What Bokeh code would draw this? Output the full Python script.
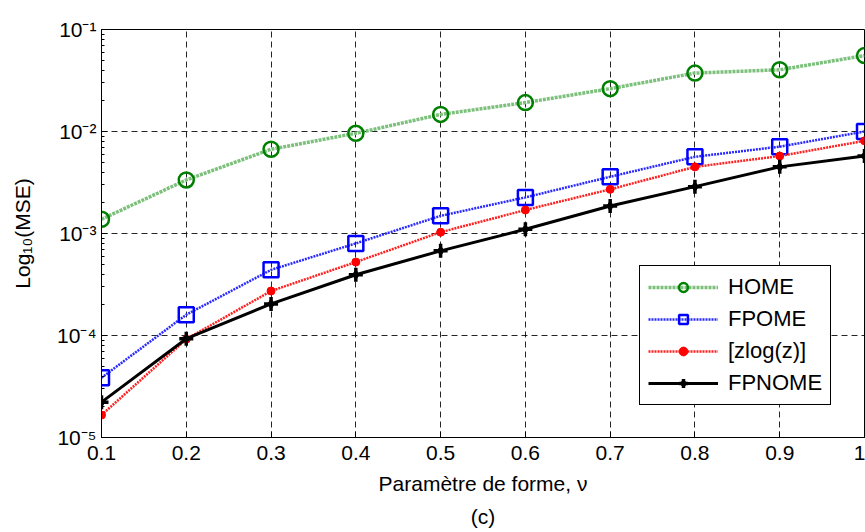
from bokeh.plotting import figure
from bokeh.embed import file_html
from bokeh.resources import INLINE
from bokeh.models import (FixedTicker, CustomJSTickFormatter, Legend, LegendItem,
                          Title, ColumnDataSource)

# ---- data ----
nu = [0.1, 0.2, 0.3, 0.4, 0.5, 0.6, 0.7, 0.8, 0.9, 1.0]
home = [1.38e-3, 3.35e-3, 6.7e-3, 9.6e-3, 1.47e-2, 1.92e-2, 2.63e-2, 3.74e-2, 4.03e-2, 5.55e-2]
fpome = [3.85e-5, 1.6e-4, 4.4e-4, 8.0e-4, 1.49e-3, 2.26e-3, 3.6e-3, 5.65e-3, 7.1e-3, 1.0e-2]
zlog = [1.66e-5, 9.2e-5, 2.73e-4, 5.25e-4, 1.03e-3, 1.70e-3, 2.71e-3, 4.5e-3, 5.75e-3, 8.1e-3]
fpnome = [2.22e-5, 9.3e-5, 2.04e-4, 3.94e-4, 6.76e-4, 1.10e-3, 1.86e-3, 2.88e-3, 4.5e-3, 5.75e-3]

series_names = ["HOME", "FPOME", "[zlog(z)]", "FPNOME"]
x_ticks = [0.1, 0.2, 0.3, 0.4, 0.5, 0.6, 0.7, 0.8, 0.9, 1.0]
y_ticks = [1e-5, 1e-4, 1e-3, 1e-2, 1e-1]
y_minor = [k * 10.0 ** d for d in range(-5, -1) for k in range(2, 10)]
x_label = "Paramètre de forme, ν"
y_label = "Log₁₀(MSE)"
caption = "(c)"

FONT = "Liberation Sans"
FS = "21px"

src = ColumnDataSource(dict(nu=nu, home=home, fpome=fpome, zlog=zlog, fpnome=fpnome))

p = figure(width=865, height=532, y_axis_type="log",
           x_range=(0.1, 1.0), y_range=(1e-5, 1e-1),
           output_backend="svg", toolbar_location=None,
           min_border_left=101, min_border_top=29, min_border_bottom=94,
           min_border_right=1)

p.outline_line_color = "black"
p.outline_line_width = 1
p.background_fill_color = "white"
p.border_fill_color = "white"

# grids
for g in (p.xgrid, p.ygrid):
    g.grid_line_color = "black"
    g.grid_line_alpha = 0.85
    g.grid_line_dash = "6 4"
    g.grid_line_width = 1
    g.minor_grid_line_color = None

# axes
xfmt = CustomJSTickFormatter(code="""
    if (Math.abs(tick - 1) < 1e-9) { return '1'; }
    return tick.toFixed(1);
""")
yfmt = CustomJSTickFormatter(code="""
    const sup = {'-':'\u207B','0':'\u2070','1':'\u00B9','2':'\u00B2','3':'\u00B3','4':'\u2074',
                 '5':'\u2075','6':'\u2076','7':'\u2077','8':'\u2078','9':'\u2079'};
    const e = Math.round(Math.log10(tick));
    return '10' + String(e).split('').map(c => sup[c]).join('');
""")

xa = p.xaxis[0]
xa.ticker = FixedTicker(ticks=x_ticks)
xa.formatter = xfmt
ya = p.yaxis[0]
ya.ticker = FixedTicker(ticks=y_ticks, minor_ticks=y_minor)
ya.formatter = yfmt

for ax in (xa, ya):
    ax.major_tick_in = 6
    ax.major_tick_out = 0
    ax.minor_tick_in = 3
    ax.minor_tick_out = 0
    ax.axis_line_color = "black"
    ax.major_tick_line_color = "black"
    ax.minor_tick_line_color = "black"
    ax.major_label_text_font = FONT
    ax.major_label_text_font_size = FS
    ax.major_label_text_color = "black"
    ax.axis_label_text_font = FONT
    ax.axis_label_text_font_size = FS
    ax.axis_label_text_font_style = "normal"
    ax.axis_label_text_color = "black"
xa.minor_tick_line_color = None
xa.axis_label = x_label
ya.axis_label = y_label
xa.major_label_standoff = 8
xa.axis_label_standoff = 9
ya.major_label_standoff = 5
ya.axis_label_standoff = 20

p.add_layout(Title(text=caption, align="center", text_font=FONT, text_font_size=FS,
                   text_font_style="normal", text_color="black"), "below")

# series
l1 = p.line("nu", "home", source=src, line_color="#7cc07c", line_width=3.5, line_dash="3 1")
m1 = p.scatter("nu", "home", source=src, marker="circle", size=15, fill_color=None,
               line_color="#008000", line_width=2.5)
l2 = p.line("nu", "fpome", source=src, line_color="#2a2aff", line_width=2.5, line_dash="2 1")
m2 = p.scatter("nu", "fpome", source=src, marker="square", size=15, fill_color=None,
               line_color="#0000ff", line_width=2.5)
l3 = p.line("nu", "zlog", source=src, line_color="#ff2020", line_width=2.5, line_dash="2 1")
m3 = p.scatter("nu", "zlog", source=src, marker="circle", size=8, fill_color="#ff0000",
               line_color="#ff0000")
l4 = p.line("nu", "fpnome", source=src, line_color="black", line_width=3)
m4a = p.scatter("nu", "fpnome", source=src, marker="cross", size=14, line_color="black",
                line_width=3.5)
m4b = p.scatter("nu", "fpnome", source=src, marker="diamond", size=10, fill_color="black",
                line_color="black")

legend = Legend(items=[
    LegendItem(label=series_names[0], renderers=[l1, m1]),
    LegendItem(label=series_names[1], renderers=[l2, m2]),
    LegendItem(label=series_names[2], renderers=[l3, m3]),
    LegendItem(label=series_names[3], renderers=[l4, m4a, m4b]),
], location=(538, 32))
legend.border_line_color = "black"
legend.border_line_width = 1
legend.border_line_alpha = 1
legend.background_fill_color = "white"
legend.background_fill_alpha = 1
legend.label_text_font = FONT
legend.label_text_font_size = "22px"
legend.label_text_color = "black"
legend.glyph_width = 70
legend.glyph_height = 22
legend.label_height = 22
legend.spacing = 6
legend.padding = 8
legend.margin = 0
legend.label_standoff = 10
p.add_layout(legend, "center")

open("out.html", "w").write(file_html(p, INLINE))
